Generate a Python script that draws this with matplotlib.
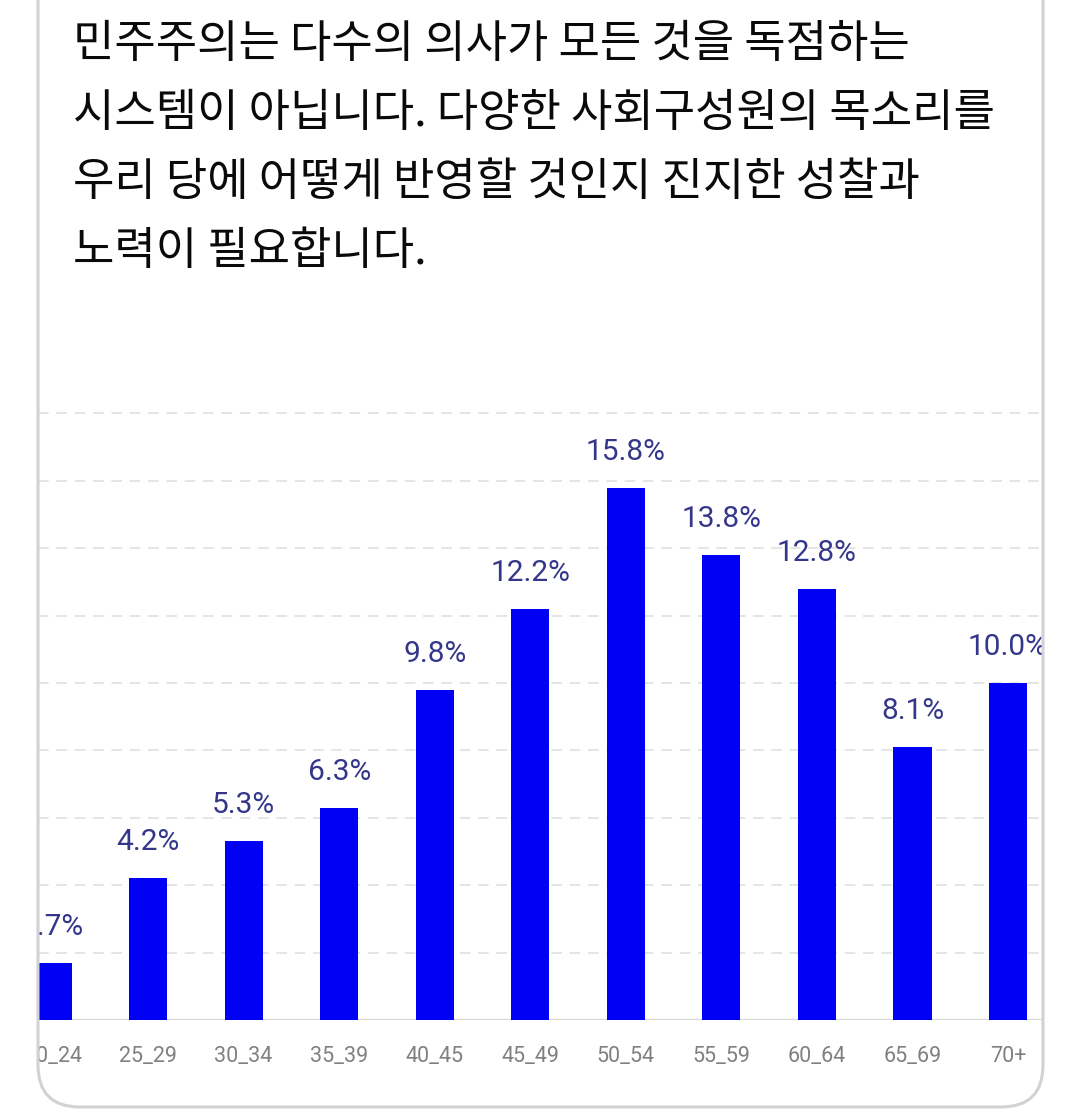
import matplotlib
matplotlib.use("Agg")
import matplotlib.pyplot as plt
from matplotlib.patches import FancyBboxPatch, Rectangle

plt.rcParams['font.family'] = ['Roboto', 'Noto Sans CJK KR', 'DejaVu Sans']

# 데이터
age_groups = ["20_24", "25_29", "30_34", "35_39", "40_45", "45_49",
              "50_54", "55_59", "60_64", "65_69", "70+"]
shares = [1.7, 4.2, 5.3, 6.3, 9.8, 12.2, 15.8, 13.8, 12.8, 8.1, 10.0]
title_lines = [
    "민주주의는 다수의 의사가 모든 것을 독점하는",
    "시스템이 아닙니다. 다양한 사회구성원의 목소리를",
    "우리 당에 어떻게 반영할 것인지 진지한 성찰과",
    "노력이 필요합니다.",
]

W, H = 1080, 1115
fig = plt.figure(figsize=(W / 100, H / 100), dpi=100)
fig.patch.set_facecolor("white")

# 막대 그래프 영역 (카드 안쪽, 좌우가 잘려 보임)
x_left, x_right = 38, 1042
y_base, y_top = 1020, 406.7
ax = fig.add_axes([x_left / W, (H - y_base) / H,
                   (x_right - x_left) / W, (y_base - y_top) / H])
x = list(range(len(age_groups)))
ax.bar(x, shares, width=0.4, color="#0000f5", zorder=3)
ax.set_xlim(-0.152, 10.356)
ax.set_ylim(0, 18.2)
ax.set_yticks(range(2, 19, 2))
ax.yaxis.grid(True, color="#dedede", ls=(0, (7, 5)), lw=1.1)
ax.set_axisbelow(True)
ax.axhline(0, color="#d8d8d8", lw=1.6, zorder=2)
for s in ax.spines.values():
    s.set_visible(False)
ax.tick_params(axis="y", left=False, labelleft=False)
ax.tick_params(axis="x", length=0, pad=19, labelsize=15.5, labelcolor="#808080")
ax.set_xticks(x)
ax.set_xticklabels(age_groups)

for xi, v in zip(x, shares):
    ax.annotate(f"{v:.1f}%", (xi, v), xytext=(0, 28), textcoords="offset pixels",
                ha="center", va="baseline", fontsize=21.5, color="#34368a",
                annotation_clip=False, clip_on=True)

# 오버레이: 제목, 카드 테두리 (픽셀 좌표)
ov = fig.add_axes([0, 0, 1, 1], zorder=5)
ov.set_xlim(0, W)
ov.set_ylim(H, 0)
ov.axis("off")
ov.patch.set_alpha(0)
ov.add_patch(Rectangle((0, 300), 37, 800, color="white", lw=0))
ov.add_patch(FancyBboxPatch((38, -200), 1005, 1307,
                            boxstyle="round,pad=0,rounding_size=42",
                            fc="none", ec="#d2d2d6", lw=2.2))

for i, line in enumerate(title_lines):
    ov.text(73, 44 + i * 69, line, fontsize=32.4, color="#0a0a0a",
            fontweight="medium", va="center", ha="left",
            family=["Noto Sans CJK KR", "DejaVu Sans"])

fig.savefig("out.png", dpi=100, facecolor="white")
